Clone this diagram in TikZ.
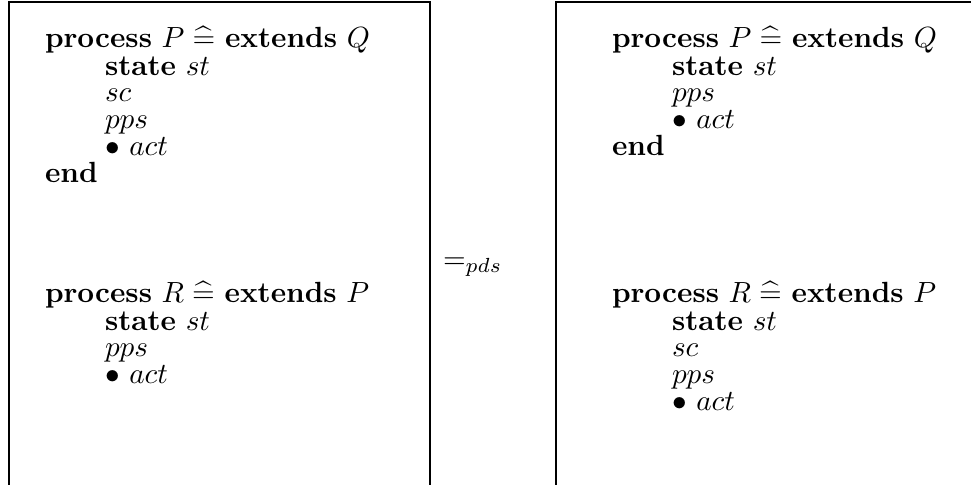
\documentclass[tikz,border=0pt]{standalone}
\usepackage{graphicx}
\usepackage{amsmath,amssymb}
\newcommand{\kw}[1]{\textbf{#1}}
\newcommand{\defs}{\mathrel{\widehat=}}
\newcommand{\sz}[1]{\scalebox{1.07}{#1}}
\begin{document}
\begin{tikzpicture}[x=0.3666pt,y=-0.3666pt,
  ln/.style={anchor=base west,inner sep=0pt,outer sep=0pt},
  box/.style={draw=black,line width=0.5pt}]
\useasboundingbox (0,0) rectangle (971,484);
% boxes (bottom cut off)
\draw[box] (9,500) -- (9,2) -- (430,2) -- (430,500);
\draw[box] (556,500) -- (556,2) -- (980,2);
% left box
\node[ln] (l1) at (45,47) {\sz{\kw{process} $P \defs$ \kw{extends} $Q$}};
\node[ln] (l2) at (105,75) {\sz{\kw{state} $st$}};
\node[ln] (l3) at (105,101) {\sz{$sc$}};
\node[ln] (l4) at (105,128) {\sz{$pps$}};
\node[ln] (l5) at (105,155) {\sz{$\bullet\ act$}};
\node[ln] (l6) at (45,182) {\sz{\kw{end}}};
\node[ln] (l7) at (45,302) {\sz{\kw{process} $R \defs$ \kw{extends} $P$}};
\node[ln] (l8) at (105,330) {\sz{\kw{state} $st$}};
\node[ln] (l9) at (105,356) {\sz{$pps$}};
\node[ln] (l10) at (105,383) {\sz{$\bullet\ act$}};
% middle
\node[ln] (eq) at (443,268) {\sz{$=_{pds}$}};
% right box
\node[ln] (r1) at (612,47) {\sz{\kw{process} $P \defs$ \kw{extends} $Q$}};
\node[ln] (r2) at (672,75) {\sz{\kw{state} $st$}};
\node[ln] (r3) at (672,101) {\sz{$pps$}};
\node[ln] (r4) at (672,128) {\sz{$\bullet\ act$}};
\node[ln] (r5) at (612,155) {\sz{\kw{end}}};
\node[ln] (r6) at (612,302) {\sz{\kw{process} $R \defs$ \kw{extends} $P$}};
\node[ln] (r7) at (672,330) {\sz{\kw{state} $st$}};
\node[ln] (r8) at (672,356) {\sz{$sc$}};
\node[ln] (r9) at (672,383) {\sz{$pps$}};
\node[ln] (r10) at (672,410) {\sz{$\bullet\ act$}};
\end{tikzpicture}
\end{document}
